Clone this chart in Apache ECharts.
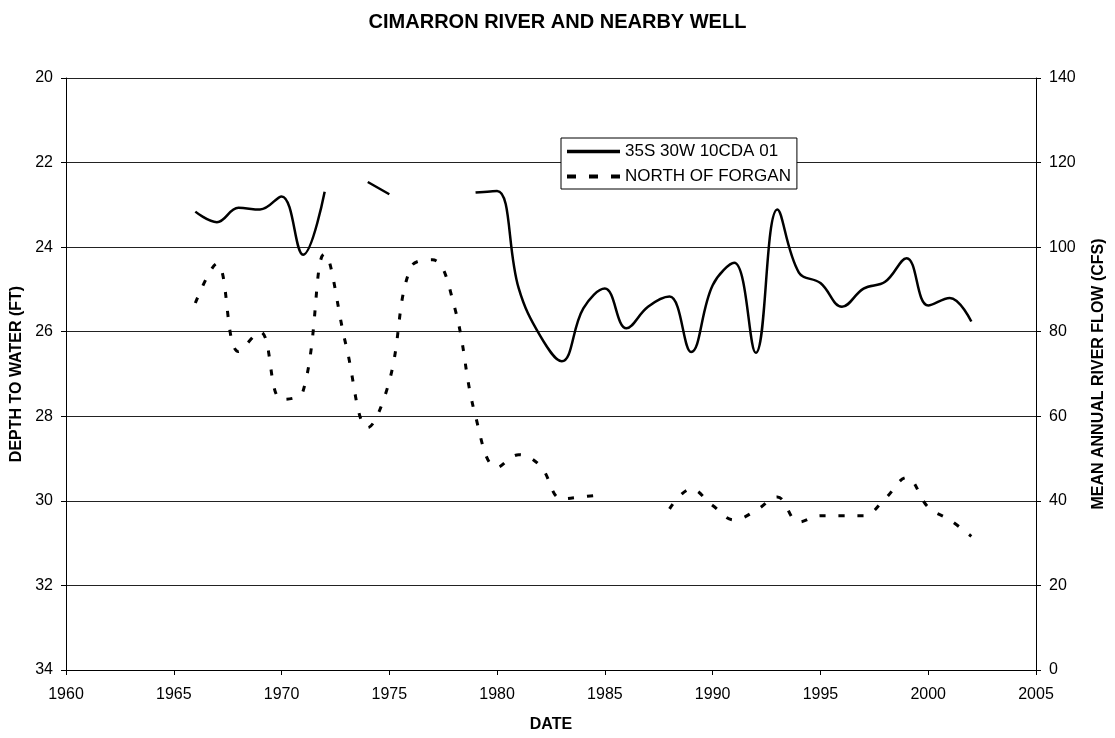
<!DOCTYPE html>
<html>
<head>
<meta charset="utf-8">
<title>Cimarron River and nearby well</title>
<script src="https://cdn.jsdelivr.net/npm/echarts@6/dist/echarts.min.js"></script>
<style>
  html, body { margin: 0; padding: 0; background: #fff; }
  #chart { width: 1115px; height: 738px; }
</style>
</head>
<body>
<div id="chart"></div>
<script>
// 数据：年份 + 两条序列（null 表示断开）
var years = [1966, 1967, 1968, 1969, 1970, 1971, 1972, 1973, 1974, 1975,
  1976, 1977, 1978, 1979, 1980, 1981, 1982, 1983, 1984, 1985,
  1986, 1987, 1988, 1989, 1990, 1991, 1992, 1993, 1994, 1995,
  1996, 1997, 1998, 1999, 2000, 2001, 2002]

// 35S 30W 10CDA 01 - depth to water (ft)
var wellDepth = [23.16, 23.41, 23.07, 23.11, 22.8, 24.18, 22.69, null, 22.46, 22.75,
  null, null, null, 22.71, 22.67, 24.97, 26.1, 26.7, 25.45, 24.98,
  25.92, 25.41, 25.17, 26.48, 24.9, 24.37, 26.5, 23.11, 24.6, 24.85,
  25.41, 24.98, 24.82, 24.26, 25.38, 25.2, 25.76]

// North of Forgan - mean annual river flow (cfs)
var riverFlow = [86.8, 96.1, 75.3, 80, 64, 66, 98.4, 76.6, 57.3, 68.3,
  95.3, 97, 86.3, 60, 47.9, 50.9, 48.3, 40.5, 41, 41.5,
  null, null, 38.1, 42.8, 38.9, 35.5, 37.7, 40.9, 35, 36.5,
  36.5, 36.5, 40.5, 45.5, 38.5, 35.5, 31.6]

var xTicks = { min: 1960, max: 2005, interval: 5 }
var leftTicks = { min: 20, max: 34, interval: 2 }
var rightTicks = { min: 0, max: 140, interval: 20 }

function pairs (vals) {
  return years.map(function (y, i) {
    return [y, vals[i] == null ? '-' : vals[i]]
  })
}

var font = 'Liberation Sans, Arial, sans-serif'
var chart = echarts.init(document.getElementById('chart'))

var axisLine = { show: true, lineStyle: { color: '#000', width: 1 } }
var axisTick = { show: true, inside: false, length: 5, lineStyle: { color: '#000' } }
var labelStyle = { color: '#000', fontFamily: font, fontSize: 16 }
var nameStyle = { color: '#000', fontFamily: font, fontSize: 16, fontWeight: 'bold' }

var option = {
  animation: false,
  backgroundColor: '#fff',
  title: {
    text: 'CIMARRON RIVER AND NEARBY WELL',
    left: 'center',
    top: 7,
    textStyle: { color: '#000', fontFamily: font, fontSize: 20, fontWeight: 'bold' }
  },
  grid: { left: 66, right: 68, top: 78, bottom: 64, containLabel: false },
  legend: {
    orient: 'vertical',
    left: 561,
    top: 138,
    backgroundColor: '#fff',
    borderColor: '#000',
    borderWidth: 1,
    borderRadius: 0,
    padding: [5, 6, 4, 4],
    itemWidth: 53,
    itemHeight: 14,
    itemGap: 8,
    itemStyle: { opacity: 0 },
    textStyle: { color: '#000', fontFamily: font, fontSize: 17 },
    data: [
      { name: '35S 30W 10CDA 01', lineStyle: { width: 3.5 } },
      { name: 'NORTH OF FORGAN', lineStyle: { width: 4, type: [9, 13] } }
    ]
  },
  xAxis: {
    type: 'value',
    min: xTicks.min,
    max: xTicks.max,
    interval: xTicks.interval,
    name: 'DATE',
    nameLocation: 'middle',
    nameGap: 47,
    nameTextStyle: nameStyle,
    axisLine: axisLine,
    axisTick: axisTick,
    axisLabel: Object.assign({ margin: 17, formatter: function (v) { return String(v) } }, labelStyle),
    splitLine: { show: false }
  },
  yAxis: [{
    type: 'value',
    inverse: true,
    min: leftTicks.min,
    max: leftTicks.max,
    interval: leftTicks.interval,
    name: 'DEPTH TO WATER (FT)',
    nameLocation: 'middle',
    nameGap: 38,
    nameTextStyle: nameStyle,
    axisLine: axisLine,
    axisTick: axisTick,
    axisLabel: Object.assign({ margin: 13 }, labelStyle),
    splitLine: { show: true, lineStyle: { color: '#222', width: 1 } }
  }, {
    type: 'value',
    position: 'right',
    min: rightTicks.min,
    max: rightTicks.max,
    interval: rightTicks.interval,
    name: 'MEAN ANNUAL RIVER FLOW (CFS)',
    nameLocation: 'middle',
    nameGap: 55,
    nameTextStyle: nameStyle,
    axisLine: axisLine,
    axisTick: axisTick,
    axisLabel: Object.assign({ margin: 13 }, labelStyle),
    splitLine: { show: false }
  }],
  series: [{
    name: '35S 30W 10CDA 01',
    type: 'line',
    yAxisIndex: 0,
    smooth: 0.4,
    symbol: 'none',
    connectNulls: false,
    lineStyle: { color: '#000', width: 2.5 },
    itemStyle: { color: '#000' },
    data: pairs(wellDepth)
  }, {
    name: 'NORTH OF FORGAN',
    type: 'line',
    yAxisIndex: 1,
    smooth: 0.4,
    symbol: 'none',
    connectNulls: false,
    lineStyle: { color: '#000', width: 3, type: [6, 13] },
    itemStyle: { color: '#000' },
    data: pairs(riverFlow)
  }]
}

chart.setOption(option)
</script>
</body>
</html>
